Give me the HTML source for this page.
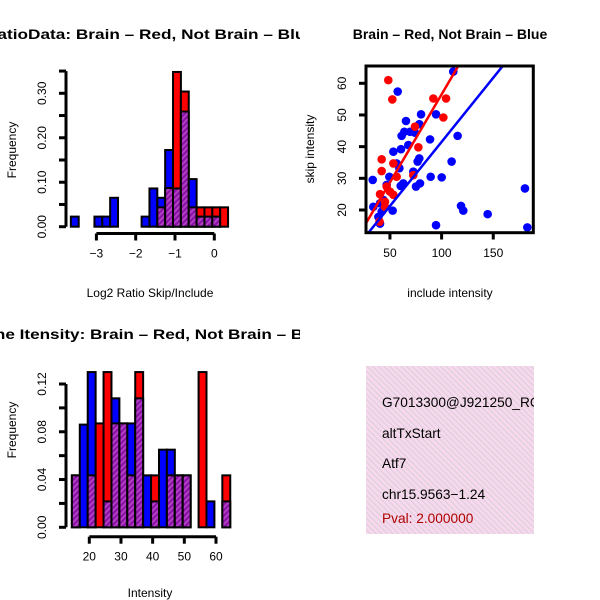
<!DOCTYPE html>
<html><head><meta charset="utf-8"><style>
html,body{margin:0;padding:0;background:#fff;}
svg{display:block;font-family:"Liberation Sans",sans-serif;}
</style></head><body>
<svg id="c" width="600" height="600" viewBox="0 0 600 600" xmlns="http://www.w3.org/2000/svg">
<defs>
<pattern id="hatch" patternUnits="userSpaceOnUse" width="4" height="4" patternTransform="rotate(45)">
<rect width="4" height="4" fill="#8a0fa8"/><rect width="2" height="4" fill="#b040c0"/></pattern>
<pattern id="pink" patternUnits="userSpaceOnUse" width="4" height="4" patternTransform="rotate(-45)">
<rect width="4" height="4" fill="#f8d8f0"/><rect width="1" height="4" fill="#d8d0d0"/></pattern>
<clipPath id="leftcol"><rect x="0" y="0" width="300" height="600"/></clipPath>
</defs>
<rect width="600" height="600" fill="#fff"/>
<g id="p1" clip-path="url(#leftcol)"></g>
<g id="p2"></g>
<g id="p3" clip-path="url(#leftcol)"></g>
<g id="p4">
<rect x="366" y="366" width="168" height="168" fill="url(#pink)"/>
<svg x="366" y="366" width="168" height="168" overflow="hidden">
<g font-size="13.7" fill="#000">
<text x="16" y="41">G7013300@J921250_RC</text>
<text x="16" y="72">altTxStart</text>
<text x="16" y="102">Atf7</text>
<text x="16" y="133">chr15.9563−1.24</text>
<text x="16" y="157" fill="#b00000">Pval: 2.000000</text>
</g></svg>
</g>
</svg>
<script>
// ---- Panel 1 data: log2 ratio histogram ----
const ratioBreakStart = [-3.65];
const ratioBinWidth = [0.2];
const ratioBlue = [0.0227,0,0,0.0227,0.0227,0.065,0,0,0,0.0227,0.086,0.065,0.1725,0.086,0.259,0.107,0.0227,0.0227,0.0227,0];
const ratioRed  = [0,0,0,0,0,0,0,0,0,0,0,0.0435,0.087,0.348,0.304,0.0435,0.0435,0.0435,0.0435,0.0435];
const ratioXTicks = [-3,-2,-1,0];
const ratioYTicks = [0,0.05,0.10,0.15,0.20,0.25,0.30,0.35];
const ratioYLabels = ["0.00","","0.10","","0.20","","0.30",""];
// ---- Panel 2 data: scatter ----
const blueX = [111.3,57.5,80.1,94.6,65.5,78.4,63.9,69.4,74.2,61.3,88.8,115.5,53.3,60.7,67.8,78.4,76.8,56.5,59.1,109.7,72.6,49.4,33.3,89.4,100.1,62.9,79.1,75.2,60.4,46.8,33.9,40.4,42,52.6,118.8,121,144.6,94.6,180.7,183,40.4,38.8,43.6];
const blueY = [63.7,57.4,50.2,50.2,48.1,47.1,44.7,44.7,44.4,43.4,42.3,43.4,38.4,39.2,40.5,36.3,35.3,34.7,33.2,35.3,32.1,30.5,29.5,30.5,30.3,28.4,28.4,27.4,27.6,27.9,21.0,22.1,19.5,19.8,21.3,19.8,18.7,15.2,26.8,14.5,15.7,17.8,23.2];
const redX = [48.4,52.3,92,104.3,101.7,74.2,77.5,42,42,53.3,56.5,72.6,46.8,40.4,50,53.3,45.2,45.2,39.9];
const redY = [61.0,54.9,55.2,55.2,49.2,46.3,39.8,36,32.3,34.7,30.5,31.0,27.4,25,25.8,24.8,22.6,21.0,16.3];
const redFit = [0.9,0.556];   // intercept, slope
const blueFit = [1.0,0.405];
const scatXTicks = [50,100,150];
const scatYTicks = [20,30,40,50,60];
// ---- Panel 3 data: intensity histogram ----
const intBreakStart = [14.5];
const intBinWidth = [2.5];
const intBlue = [0.0435,0.086,0.13,0,0.0217,0.108,0.087,0.087,0.108,0.0435,0.0217,0.065,0.065,0.0435,0.0435,0,0,0.0217,0,0.0217];
const intRed  = [0.0435,0,0.0435,0.087,0.13,0.087,0.087,0.0435,0.13,0,0.0435,0,0.0435,0.0435,0.0435,0,0.13,0,0,0.0435];
const intXTicks = [20,30,40,50,60];
const intYTicks = [0,0.02,0.04,0.06,0.08,0.10,0.12];
const intYLabels = ["0.00","","0.04","","0.08","","0.12"];

const NS="http://www.w3.org/2000/svg";
function mk(parent,tag,attrs,text){const e=document.createElementNS(NS,tag);for(const k in attrs)e.setAttribute(k,attrs[k]);if(text!==undefined)e.textContent=text;parent.appendChild(e);return e;}
function lin(d0,d1,r0,r1){return v=>r0+(v-d0)*(r1-r0)/(d1-d0);}

function hist(g,cfg){
  const sx=cfg.sx, sy=cfg.sy;
  for(let i=0;i<cfg.blue.length;i++){
    const x0=sx(cfg.start+i*cfg.w), x1=sx(cfg.start+(i+1)*cfg.w);
    const b=cfg.blue[i], r=cfg.red[i];
    const hi=Math.max(b,r), lo=Math.min(b,r);
    if(hi>0){
      const el=mk(g,'rect',{x:x0,y:sy(hi),width:x1-x0,height:sy(0)-sy(hi),fill:b>r?'#0000ff':'#ff0000',stroke:'#000','stroke-width':2});
      
      
    }
    if(lo>0){
      const el=mk(g,'rect',{x:x0,y:sy(lo),width:x1-x0,height:sy(0)-sy(lo),fill:'url(#hatch)',stroke:'#000','stroke-width':2});
      
      
    }
  }
  const ya=mk(g,'g',{});
  
  
  const yt=cfg.yTicks;
  mk(ya,'line',{x1:cfg.ax,x2:cfg.ax,y1:sy(yt[0]),y2:sy(yt[yt.length-1]),stroke:'#000','stroke-width':3});
  yt.forEach((v,i)=>{mk(ya,'line',{x1:cfg.ax-7,x2:cfg.ax,y1:sy(v),y2:sy(v),stroke:'#000','stroke-width':3});
    if(cfg.yLabels[i]){const t=mk(ya,'text',{x:42,y:sy(v),'font-size':12,'text-anchor':'middle',transform:`rotate(-90 42 ${sy(v)})`,dy:4},cfg.yLabels[i]);
      }});
  const xa=mk(g,'g',{});
  
  
  const xt=cfg.xTicks;
  mk(xa,'line',{x1:sx(xt[0]),x2:sx(xt[xt.length-1]),y1:cfg.ay,y2:cfg.ay,stroke:'#000','stroke-width':3});
  xt.forEach(v=>{mk(xa,'line',{x1:sx(v),x2:sx(v),y1:cfg.ay,y2:cfg.ay+7,stroke:'#000','stroke-width':3});
    const t=mk(xa,'text',{x:sx(v),y:cfg.ay+24,'font-size':12,'text-anchor':'middle'},String(v).replace('-','−'));
    });
}

// Panel 1
const g1=document.getElementById('p1');
hist(g1,{sx:lin(0,1,214.3,253.6),sy:lin(0,0.3,226.7,93.3),start:ratioBreakStart[0],w:ratioBinWidth[0],blue:ratioBlue,red:ratioRed,
  xTicks:ratioXTicks,yTicks:ratioYTicks,yLabels:ratioYLabels,ax:66,ay:233.5});
let t;
t=mk(g1,'text',{x:150,y:39,'font-size':14,'font-weight':'bold','text-anchor':'middle',textLength:330,lengthAdjust:'spacingAndGlyphs'},'RatioData: Brain – Red, Not Brain – Blue');

t=mk(g1,'text',{x:150,y:297,'font-size':12,'text-anchor':'middle'},'Log2 Ratio Skip/Include');

t=mk(g1,'text',{x:12,y:150,'font-size':12,'text-anchor':'middle',transform:'rotate(-90 12 150)',dy:4},'Frequency');


// Panel 2
const g2=document.getElementById('p2');
const sx2=lin(0,100,338.3,441.6), sy2=lin(20,60,210,83.3);
const clip=mk(g2,'clipPath',{id:'cl2'});mk(clip,'rect',{x:366,y:66,width:167.3,height:166.7});
const pts=mk(g2,'g',{'clip-path':'url(#cl2)'});
blueX.forEach((x,i)=>{const c=mk(pts,'circle',{cx:sx2(x),cy:sy2(blueY[i]),r:4.3,fill:'#0000ff'});
  });
redX.forEach((x,i)=>{const c=mk(pts,'circle',{cx:sx2(x),cy:sy2(redY[i]),r:4.3,fill:'#ff0000'});
  });
[[redFit,'#ff0000','fit-line-brain'],[blueFit,'#0000ff','fit-line-not-brain']].forEach(([f,col,nm])=>{
  const l=mk(pts,'line',{x1:sx2(0),y1:sy2(f[0]),x2:sx2(200),y2:sy2(f[0]+f[1]*200),stroke:col,'stroke-width':2.5});
  });
const box=mk(g2,'rect',{x:366,y:66,width:167.3,height:166.7,fill:'none',stroke:'#000','stroke-width':3});

scatXTicks.forEach(v=>{mk(g2,'line',{x1:sx2(v),x2:sx2(v),y1:232.7,y2:239.5,stroke:'#000','stroke-width':3});
  const tt=mk(g2,'text',{x:sx2(v),y:257,'font-size':12,'text-anchor':'middle'},String(v));
  });
scatYTicks.forEach(v=>{mk(g2,'line',{x1:359,x2:366,y1:sy2(v),y2:sy2(v),stroke:'#000','stroke-width':3});
  const tt=mk(g2,'text',{x:342,y:sy2(v),dy:4,'font-size':12,'text-anchor':'middle',transform:`rotate(-90 342 ${sy2(v)})`},String(v));
  });
t=mk(g2,'text',{x:450,y:39,'font-size':14,'font-weight':'bold','text-anchor':'middle'},'Brain – Red, Not Brain – Blue');

t=mk(g2,'text',{x:450,y:297,'font-size':12,'text-anchor':'middle'},'include intensity');

t=mk(g2,'text',{x:310,y:149,dy:4,'font-size':12,'text-anchor':'middle',transform:'rotate(-90 310 149)'},'skip intensity');


// Panel 3
const g3=document.getElementById('p3');
hist(g3,{sx:lin(20,60,89.3,216),sy:lin(0,0.12,527.3,384),start:intBreakStart[0],w:intBinWidth[0],blue:intBlue,red:intRed,
  xTicks:intXTicks,yTicks:intYTicks,yLabels:intYLabels,ax:66,ay:536.7});
t=mk(g3,'text',{x:150,y:339,'font-size':14,'font-weight':'bold','text-anchor':'middle',textLength:356,lengthAdjust:'spacingAndGlyphs'},'Gene Itensity: Brain – Red, Not Brain – Blue');

t=mk(g3,'text',{x:150,y:597,'font-size':12,'text-anchor':'middle'},'Intensity');

t=mk(g3,'text',{x:12,y:430,dy:4,'font-size':12,'text-anchor':'middle',transform:'rotate(-90 12 430)'},'Frequency');

</script>
</body></html>
